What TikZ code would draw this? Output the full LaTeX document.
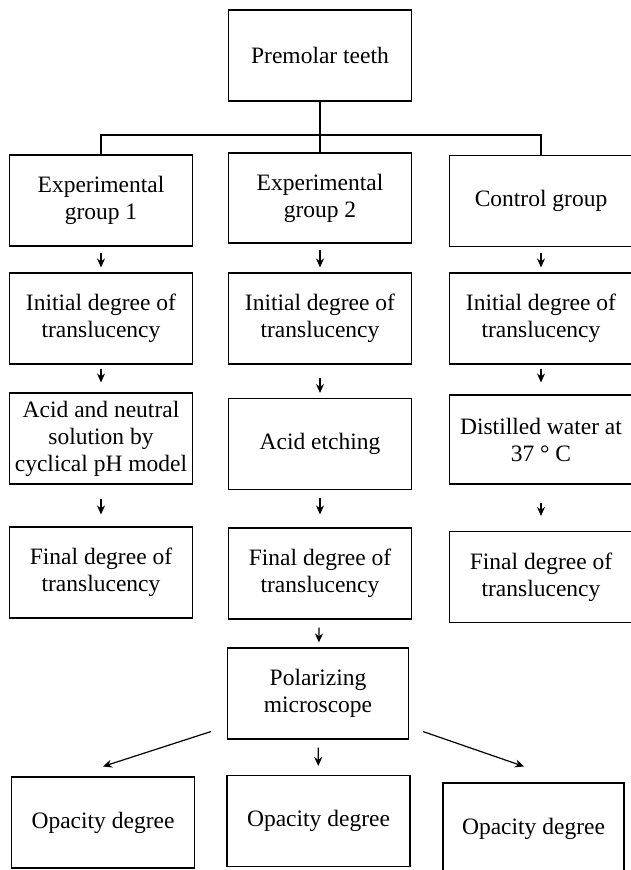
\documentclass[tikz,border=0pt]{standalone}
\usepackage{fontspec}
\setmainfont{Liberation Serif}
\usetikzlibrary{arrows.meta}

\begin{document}
\begin{tikzpicture}[x=1pt,y=-1pt,
  box/.style={draw, line width=1.1pt, align=center, minimum width=183pt,
    minimum height=91pt, inner sep=2pt, font=\fontsize{23.5}{27}\selectfont},
  link/.style={line width=1.1pt},
  flow/.style={line width=1.2pt, -{Stealth[length=9pt,width=8pt]},
    shorten <=6pt, shorten >=5pt}]

  \useasboundingbox (0,0) rectangle (631,870);

  \node[box] (teeth) at (320,55.5) {Premolar teeth};
  \coordinate (split) at (320,135);

  \node[box] (eg1) at (101,200.5) {Experimental\\group 1};
  \node[box,minimum height=90pt] (eg2) at (320,198) {Experimental\\group 2};
  \node[box] (ctrl) at (541,201) {Control group};

  \node[box] (init1) at (101,318.5) {Initial degree of\\translucency};
  \node[box] (init2) at (320,318.5) {Initial degree of\\translucency};
  \node[box] (init3) at (541,318.5) {Initial degree of\\translucency};

  \node[box] (treat1) at (101,438.5) {Acid and neutral\\solution by\\cyclical pH model};
  \node[box] (treat2) at (320,444) {Acid etching};
  \node[box,minimum height=89pt] (treat3) at (541,439.5) {Distilled water at\\37 ° C};

  \node[box] (final1) at (101,572.5) {Final degree of\\translucency};
  \node[box] (final2) at (320,573.5) {Final degree of\\translucency};
  \node[box] (final3) at (541,577) {Final degree of\\translucency};

  \node[box,minimum width=181pt] (pol) at (318,693.5) {Polarizing\\microscope};

  \node[box] (op1) at (103,822.5) {Opacity degree};
  \node[box] (op2) at (318.5,821) {Opacity degree};
  \node[box,minimum width=181pt] (op3) at (533.5,828.5) {Opacity degree};

  % tree at the top
  \draw[link] (teeth) -- (split);
  \draw[link] (eg1.north) |- (split) -| (ctrl.north);
  \draw[link] (split) -- (eg2);

  % columns
  \draw[flow] (eg1) -- (init1);
  \draw[flow] (eg2) -- (init2);
  \draw[flow] (ctrl) -- (init3);

  \draw[flow,shorten <=4pt,shorten >=10pt] (init1) -- (treat1);
  \draw[flow,shorten <=13pt,shorten >=5pt] (init2) -- (treat2);
  \draw[flow,shorten <=4pt,shorten >=12pt] (init3) -- (treat3);

  \draw[flow,shorten <=14pt,shorten >=12pt] (treat1) -- (final1);
  \draw[flow,shorten <=8pt,shorten >=13pt] (treat2) -- (final2);
  \draw[flow,shorten <=18pt,shorten >=15pt] (treat3) -- (final3);

  \draw[flow,shorten <=8pt] (final2) -- (pol);

  % microscope to the three results
  \draw[flow,shorten <=0pt,shorten >=0pt] ([xshift=-16pt,yshift=8pt]pol.south west) -- ([yshift=10pt]op1.north);
  \draw[flow,shorten <=8pt,shorten >=9pt] (pol) -- (op2);
  \draw[flow,shorten <=0pt,shorten >=0pt] ([xshift=14pt,yshift=8pt]pol.south east) -- ([xshift=-9.5pt,yshift=16pt]op3.north);

\end{tikzpicture}
\end{document}
